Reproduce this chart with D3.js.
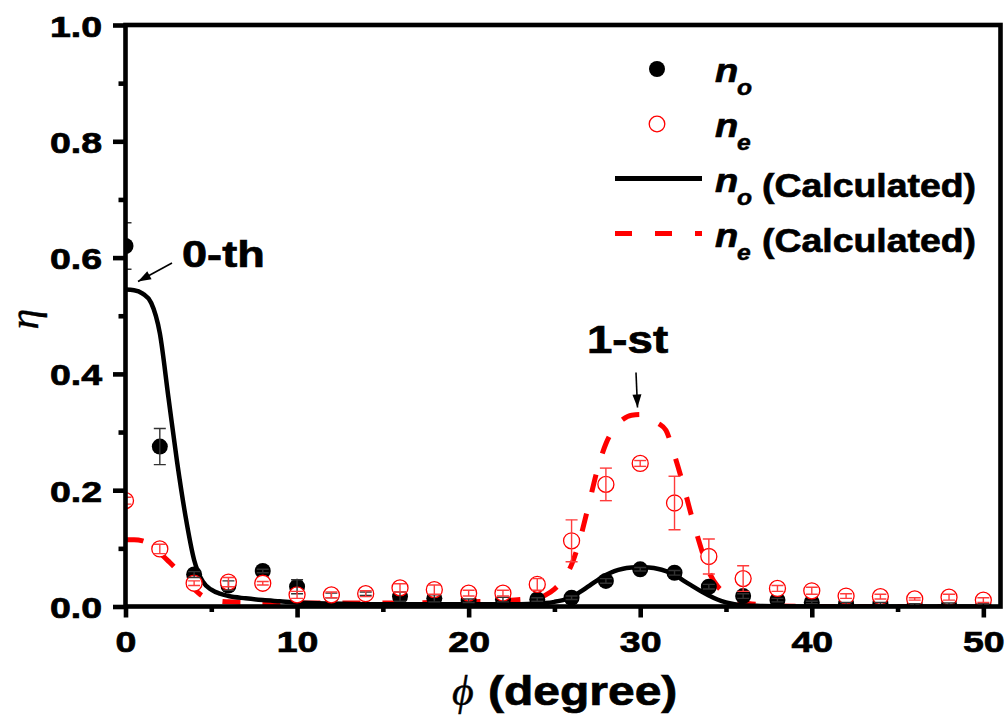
<!DOCTYPE html>
<html>
<head>
<meta charset="utf-8">
<script src="https://cdn.jsdelivr.net/npm/d3@7"></script>
<style>
  body { margin: 0; background: #fff; }
  svg { display: block; }
</style>
</head>
<body>
<svg id="chart" width="1008" height="718"></svg>
<script>
// Measured diffraction efficiency versus rotation angle (degrees)
const angles = [0, 2, 4, 6, 8, 10, 12, 14, 16, 18, 20, 22, 24, 26, 28, 30, 32, 34, 36, 38, 40, 42, 44, 46, 48, 50];
const noMeasured = [0.62, 0.275, 0.055, 0.036, 0.061, 0.034, 0.019, 0.022, 0.017, 0.014, 0.010, 0.012, 0.012, 0.015, 0.044, 0.064, 0.058, 0.034, 0.018, 0.011, 0.007, 0.005, 0.005, 0.003, 0.004, 0.003];
const noError    = [0.04, 0.031, 0.005, 0.008, 0.003, 0.012, 0.004, 0.003, 0.008, 0.006, 0.003, 0.004, 0.003, 0.003, 0.004, 0.003, 0.004, 0.004, 0.004, 0.003, 0.002, 0.002, 0.002, 0.002, 0.002, 0.002];
const neMeasured = [0.182, 0.099, 0.040, 0.042, 0.040, 0.020, 0.020, 0.022, 0.032, 0.029, 0.023, 0.023, 0.038, 0.113, 0.210, 0.246, 0.178, 0.086, 0.048, 0.031, 0.027, 0.018, 0.017, 0.013, 0.016, 0.011];
const neError    = [0.006, 0.008, 0.004, 0.008, 0.003, 0.006, 0.005, 0.005, 0.007, 0.008, 0.005, 0.005, 0.010, 0.036, 0.028, 0.005, 0.046, 0.030, 0.022, 0.005, 0.006, 0.004, 0.004, 0.002, 0.005, 0.004];

// Calculated curves
const calcAngles = [0, 0.5, 1, 1.5, 2, 2.5, 3, 3.5, 4, 4.5, 5, 5.5, 6, 7, 8, 9, 10, 12, 14, 16, 18, 20, 22, 23, 24, 24.5, 25, 25.5, 26, 26.5, 27, 27.5, 28, 28.5, 29, 29.5, 30, 30.5, 31, 31.5, 32, 32.5, 33, 33.5, 34, 34.5, 35, 35.5, 36, 37, 38, 40, 45, 50];
const noCalculated = [0.545, 0.544, 0.538, 0.522, 0.47, 0.36, 0.25, 0.155, 0.08, 0.043, 0.029, 0.022, 0.018, 0.014, 0.011, 0.009, 0.007, 0.005, 0.004, 0.004, 0.004, 0.004, 0.004, 0.004, 0.005, 0.006, 0.008, 0.011, 0.016, 0.025, 0.035, 0.045, 0.054, 0.061, 0.065, 0.067, 0.068, 0.067, 0.065, 0.061, 0.055, 0.045, 0.036, 0.027, 0.019, 0.012, 0.007, 0.004, 0.002, 0.001, 0.0005, 0, 0, 0];
const neCalculated = [0.115, 0.115, 0.113, 0.105, 0.092, 0.078, 0.063, 0.045, 0.03, 0.018, 0.012, 0.009, 0.008, 0.007, 0.007, 0.006, 0.006, 0.006, 0.006, 0.006, 0.007, 0.008, 0.01, 0.012, 0.014, 0.02, 0.03, 0.046, 0.072, 0.117, 0.175, 0.235, 0.28, 0.307, 0.322, 0.329, 0.33, 0.326, 0.316, 0.303, 0.26, 0.21, 0.155, 0.105, 0.06, 0.035, 0.022, 0.012, 0.007, 0.003, 0.001, 0, 0, 0];

const xTicks = [0, 10, 20, 30, 40, 50];
const xMinorTicks = [5, 15, 25, 35, 45];
const yTicks = [0, 0.2, 0.4, 0.6, 0.8, 1.0];
const yMinorTicks = [0.1, 0.3, 0.5, 0.7, 0.9];

const svg = d3.select("#chart");
const SANS = "'Liberation Sans', Arial, Helvetica, sans-serif";
const SERIF = "'Liberation Serif', 'DejaVu Serif', serif";
const STRETCH = 1.25;  // glyphs are drawn horizontally widened
const HEAVY = 0.7;     // extra outline that thickens bold glyphs

const x = d3.scaleLinear().domain([0, 51]).range([125.5, 1000.5]);
const y = d3.scaleLinear().domain([0, 1]).range([606.5, 25]);

// text helper: places a horizontally widened label
function label(parent, px, py, str, size, opts = {}) {
  const sx = opts.sx || STRETCH;
  return parent.append("text")
    .attr("transform", `translate(${px},${py}) scale(${sx},1)`)
    .attr("text-anchor", opts.anchor || "start")
    .attr("font-family", opts.family || SANS)
    .attr("font-weight", opts.weight || "bold")
    .attr("font-style", opts.style || "normal")
    .attr("font-size", size)
    .attr("fill", "#000")
    .attr("stroke", "#000")
    .attr("stroke-width", opts.heavy != null ? opts.heavy : HEAVY)
    .text(str);
}

svg.append("defs").append("clipPath").attr("id", "plot-clip")
  .append("rect")
  .attr("x", x(0)).attr("y", y(1))
  .attr("width", x(51) - x(0)).attr("height", y(0) - y(1));

const plot = svg.append("g").attr("clip-path", "url(#plot-clip)");

// calculated curves
const lineGen = (vals) => d3.line()
  .x((d, i) => x(calcAngles[i]))
  .y((d) => y(d))
  .curve(d3.curveMonotoneX)(vals);

plot.append("path")
  .attr("d", lineGen(neCalculated))
  .attr("fill", "none")
  .attr("stroke", "#ff0000")
  .attr("stroke-width", 5)
  .attr("stroke-dasharray", "18,22");

plot.append("path")
  .attr("d", lineGen(noCalculated))
  .attr("fill", "none")
  .attr("stroke", "#000")
  .attr("stroke-width", 4.5);

// measured n_o: filled black dots
plot.append("g").selectAll("circle")
  .data(angles)
  .join("circle")
  .attr("cx", (d) => x(d))
  .attr("cy", (d, i) => y(noMeasured[i]))
  .attr("r", 8)
  .attr("fill", "#000");

// measured n_e: open red circles
plot.append("g").selectAll("circle")
  .data(angles)
  .join("circle")
  .attr("cx", (d) => x(d))
  .attr("cy", (d, i) => y(neMeasured[i]))
  .attr("r", 8)
  .attr("fill", "#fff")
  .attr("stroke", "#ff0000")
  .attr("stroke-width", 1.3);

// error bars
function errorBars(vals, errs, color) {
  const g = plot.append("g").attr("stroke", color).attr("stroke-width", 1.4).attr("fill", "none");
  angles.forEach((a, i) => {
    const cx = x(a), top = y(vals[i] + errs[i]), bot = y(vals[i] - errs[i]);
    g.append("line").attr("x1", cx).attr("x2", cx).attr("y1", top).attr("y2", bot);
    g.append("line").attr("x1", cx - 6).attr("x2", cx + 6).attr("y1", top).attr("y2", top);
    g.append("line").attr("x1", cx - 6).attr("x2", cx + 6).attr("y1", bot).attr("y2", bot);
  });
}
errorBars(noMeasured, noError, "#333");
errorBars(neMeasured, neError, "#ff3b3b");

// frame
svg.append("rect")
  .attr("x", x(0)).attr("y", y(1))
  .attr("width", x(51) - x(0)).attr("height", y(0) - y(1))
  .attr("fill", "none").attr("stroke", "#000").attr("stroke-width", 4.6);

// axes
const xAxis = svg.append("g").attr("transform", `translate(0,${y(0)})`)
  .call(d3.axisBottom(x).tickValues(xTicks).tickSize(11).tickSizeOuter(0).tickFormat(d3.format("d")));
const xMinor = svg.append("g").attr("transform", `translate(0,${y(0)})`)
  .call(d3.axisBottom(x).tickValues(xMinorTicks).tickSize(5.5).tickSizeOuter(0).tickFormat(""));
const yAxis = svg.append("g").attr("transform", `translate(${x(0)},0)`)
  .call(d3.axisLeft(y).tickValues(yTicks).tickSize(12.5).tickSizeOuter(0).tickFormat(d3.format(".1f")));
const yMinor = svg.append("g").attr("transform", `translate(${x(0)},0)`)
  .call(d3.axisLeft(y).tickValues(yMinorTicks).tickSize(7).tickSizeOuter(0).tickFormat(""));

[xAxis, xMinor, yAxis, yMinor].forEach((g) => {
  g.select(".domain").remove();
  g.selectAll(".tick line").attr("stroke", "#000").attr("stroke-width", 4.6);
});

xAxis.selectAll(".tick text")
  .attr("x", 0).attr("y", 0).attr("dy", null)
  .attr("transform", `translate(0,45.5) scale(${STRETCH},1)`)
  .attr("font-family", SANS).attr("font-weight", "bold").attr("font-size", 30)
  .attr("fill", "#000").attr("stroke", "#000").attr("stroke-width", HEAVY);

yAxis.selectAll(".tick text")
  .attr("x", 0).attr("y", 0).attr("dy", null)
  .attr("transform", `translate(-23.5,11) scale(${STRETCH},1)`)
  .attr("font-family", SANS).attr("font-weight", "bold").attr("font-size", 30)
  .attr("fill", "#000").attr("stroke", "#000").attr("stroke-width", HEAVY);

// axis titles
svg.append("text")
  .attr("transform", "translate(38,319) rotate(-90)")
  .attr("text-anchor", "middle")
  .attr("font-family", SERIF).attr("font-style", "italic")
  .attr("font-size", 42).attr("fill", "#000")
  .attr("stroke", "#000").attr("stroke-width", 0.4)
  .text("η");

svg.append("text")
  .attr("x", 452).attr("y", 705)
  .attr("font-family", SERIF).attr("font-style", "italic")
  .attr("font-size", 42).attr("fill", "#000")
  .attr("stroke", "#000").attr("stroke-width", 0.4)
  .text("ϕ");
label(svg, 488, 705, "(degree)", 40, { sx: 1.2 });

// annotations
function arrow(x1, y1, x2, y2) {
  svg.append("line").attr("x1", x1).attr("y1", y1).attr("x2", x2).attr("y2", y2)
    .attr("stroke", "#000").attr("stroke-width", 1.6);
  const ang = Math.atan2(y2 - y1, x2 - x1), L = 13, W = 4.5;
  const bx = x2 - L * Math.cos(ang), by = y2 - L * Math.sin(ang);
  const px = -Math.sin(ang) * W, py = Math.cos(ang) * W;
  svg.append("path")
    .attr("d", `M${x2},${y2}L${bx + px},${by + py}L${bx - px},${by - py}Z`)
    .attr("fill", "#000");
}
label(svg, 182, 267, "0-th", 37, { sx: 1.22 });
arrow(172, 263, 138, 281.5);
label(svg, 587, 353, "1-st", 38, { sx: 1.2 });
arrow(636, 372.5, 637.5, 407.5);

// legend
const legend = svg.append("g");
const rows = [69, 124, 178.5, 233.5];
legend.append("circle").attr("cx", 657).attr("cy", rows[0]).attr("r", 8).attr("fill", "#000");
legend.append("circle").attr("cx", 657).attr("cy", rows[1]).attr("r", 7.8)
  .attr("fill", "#fff").attr("stroke", "#ff0000").attr("stroke-width", 1.3);
legend.append("line").attr("x1", 615).attr("x2", 702).attr("y1", rows[2]).attr("y2", rows[2])
  .attr("stroke", "#000").attr("stroke-width", 5);
legend.append("line").attr("x1", 615).attr("x2", 702).attr("y1", rows[3]).attr("y2", rows[3])
  .attr("stroke", "#ff0000").attr("stroke-width", 5).attr("stroke-dasharray", "17,23");

const subs = ["o", "e", "o", "e"];
rows.forEach((ry, i) => {
  label(legend, 715, ry + 13, "n", 34, { style: "italic", sx: 1.12 });
  label(legend, 737, ry + 26, subs[i], 22, { style: "italic", sx: 1.12, heavy: 0.5 });
  if (i >= 2) label(legend, 762, ry + 18, "(Calculated)", 34, { sx: 1.1 });
});
</script>
</body>
</html>
